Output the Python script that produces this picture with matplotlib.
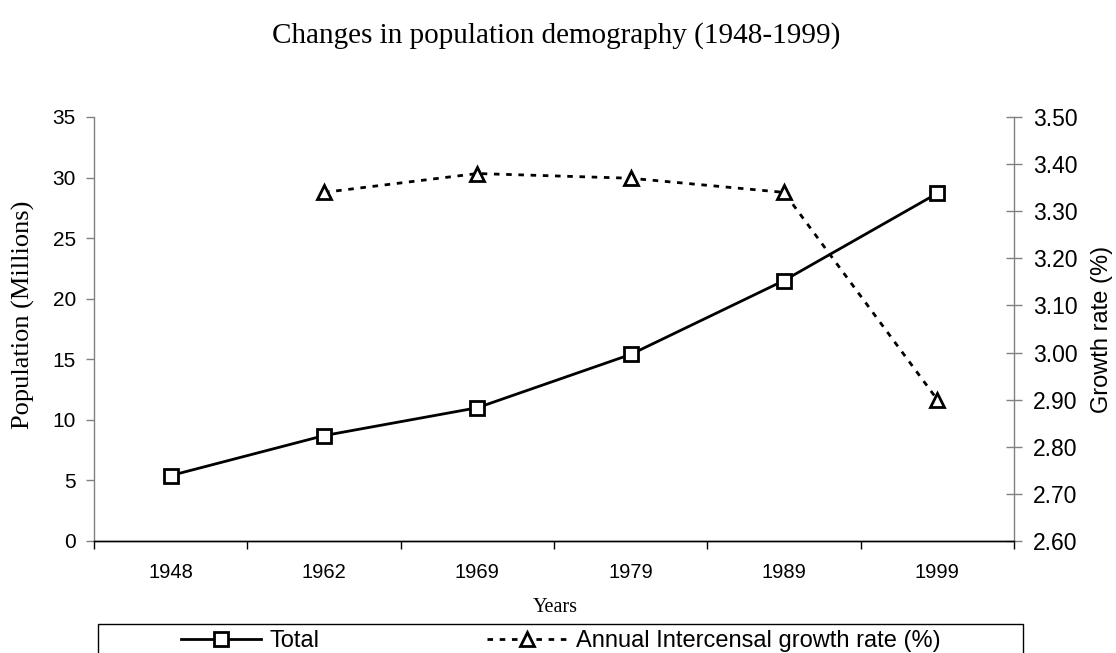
import numpy as np
import matplotlib
matplotlib.use('Agg')
import matplotlib.pyplot as plt
from matplotlib.patches import Rectangle

# data
years = ['1948', '1962', '1969', '1979', '1989', '1999']
total_pop = [5.4, 8.7, 11.0, 15.4, 21.5, 28.7]          # millions
growth_rate = [np.nan, 3.34, 3.38, 3.37, 3.34, 2.90]    # % per year

sans = 'Liberation Sans'
serif = 'Liberation Serif'

W, H = 1116, 653
fig = plt.figure(figsize=(W / 100, H / 100), dpi=100)
fig.patch.set_facecolor('white')

def fx(px):
    return px / W

def fy(py):
    return 1 - py / H

ax = fig.add_axes([fx(94), fy(541), fx(1014) - fx(94), fy(117) - fy(541)])
ax2 = ax.twinx()

x = np.arange(len(years))

ax.plot(x, total_pop, color='black', lw=2, marker='s', markersize=10,
        markerfacecolor='white', markeredgecolor='black', markeredgewidth=2,
        label='Total', zorder=3)
ax2.plot(x, growth_rate, color='black', lw=2, dashes=(2.0, 2.4), marker='^',
         markersize=10, markerfacecolor='white', markeredgecolor='black',
         markeredgewidth=2, label='Annual Intercensal growth rate (%)', zorder=3)

# left axis
ax.set_xlim(-0.5, len(years) - 0.5)
ax.set_ylim(0, 35)
ax.set_yticks(np.arange(0, 36, 5))
ax.tick_params(axis='y', direction='out', length=6, width=1, color='#808080',
               pad=7, labelsize=15)
for lab in ax.get_yticklabels():
    lab.set_fontfamily(sans)

# category axis: labels centred, tick marks between categories
ax.set_xticks(x)
ax.set_xticklabels(years, fontfamily=sans, fontsize=14.5)
ax.set_xticks(np.arange(-0.5, len(years), 1), minor=True)
ax.tick_params(axis='x', which='major', length=0, pad=15.5)
ax.tick_params(axis='x', which='minor', direction='out', length=6, width=1,
               color='black')

# right axis
ax2.set_ylim(2.60, 3.50)
ax2.set_yticks(np.round(np.arange(2.60, 3.501, 0.10), 2))
ax2.set_yticklabels([f'{v:.2f}' for v in ax2.get_yticks()],
                    fontfamily=sans, fontsize=16.5)
ax2.tick_params(axis='y', direction='inout', length=11, width=1,
                color='#808080', pad=8)

for a in (ax, ax2):
    a.spines['top'].set_visible(False)
    a.spines['left'].set_color('#808080')
    a.spines['right'].set_color('#808080')
    a.spines['bottom'].set_color('black')
    for s in a.spines.values():
        s.set_linewidth(1)
ax2.spines['left'].set_visible(False)
ax.spines['right'].set_visible(False)

# titles and labels
fig.text(fx(556), fy(36), 'Changes in population demography (1948-1999)',
         ha='center', va='center', fontfamily=serif, fontsize=21)
fig.text(fx(23), fy(315), 'Population (Millions)', rotation=90,
         ha='center', va='center', fontfamily=serif, fontsize=19)
fig.text(fx(1102), fy(329), 'Growth rate (%)', rotation=90,
         ha='center', va='center', fontfamily=sans, fontsize=17)
fig.text(fx(555), fy(607), 'Years', ha='center', va='center',
         fontfamily=serif, fontsize=14.5)

# legend box (runs off the bottom of the picture like the reference)
fig.patches.append(Rectangle((fx(98), fy(665)), fx(1023) - fx(98),
                             fy(624) - fy(665), transform=fig.transFigure,
                             facecolor='white', edgecolor='black', lw=1))
h1, l1 = ax.get_legend_handles_labels()
h2, l2 = ax2.get_legend_handles_labels()
fig.legend(h1 + h2, l1 + l2, loc='center left',
           bbox_to_anchor=(fx(181), fy(641)), ncol=2, frameon=False,
           prop={'family': sans, 'size': 17}, handlelength=3.4,
           handletextpad=0.35, columnspacing=7.1, numpoints=1,
           borderpad=0, borderaxespad=0)

fig.savefig('out.png', dpi=100)
